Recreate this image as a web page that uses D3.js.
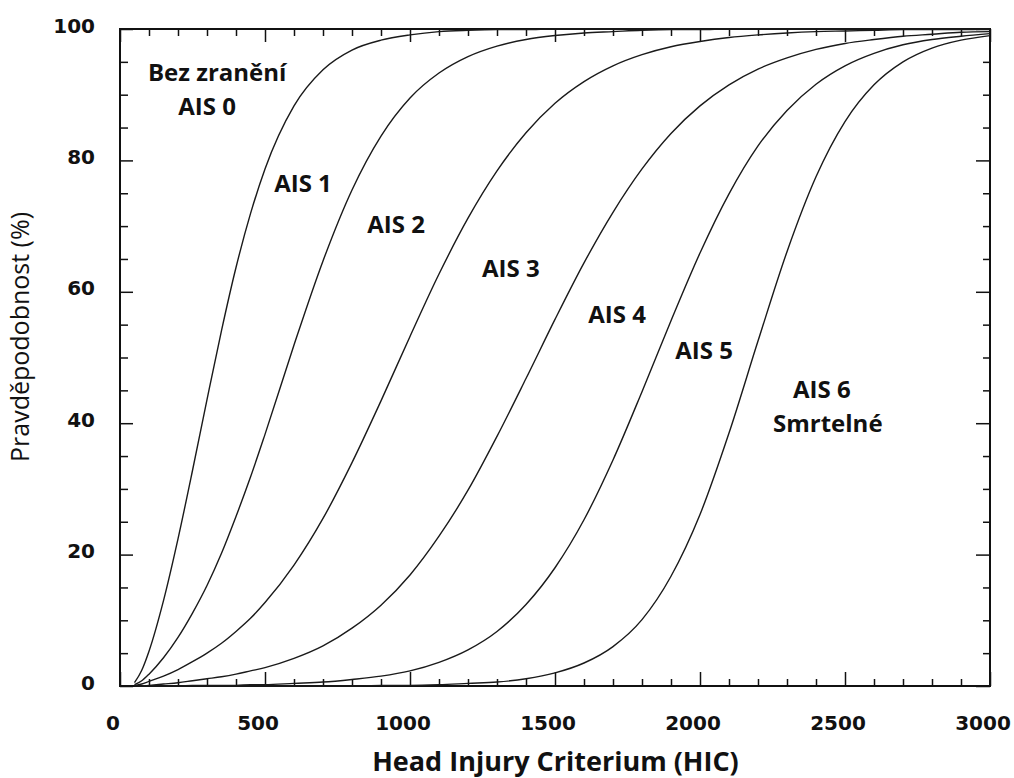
<!DOCTYPE html>
<html>
<head>
<meta charset="utf-8">
<script src="https://cdn.jsdelivr.net/npm/d3@7"></script>
<style>
  html, body { margin: 0; padding: 0; background: #fff; }
  svg { display: block; }
</style>
</head>
<body>
<script>
// ---------------- DATA ----------------
const hic = [50, 75, 100, 150, 200, 250, 300, 350, 400, 450, 500, 600, 700, 800, 900, 1000,
  1100, 1200, 1300, 1400, 1500, 1600, 1700, 1800, 1900, 2000,
  2100, 2200, 2300, 2400, 2500, 2600, 2700, 2800, 2900, 3000];

const ais1 = [0.5, 2.4, 5.3, 13.0, 22.4, 32.8, 43.6, 54.1, 63.7, 71.9, 78.7, 88.3, 93.8, 96.8, 98.3, 99.1,
  99.6, 99.8, 99.9, 99.9, 100, 100, 100, 100, 100, 100,
  100, 100, 100, 100, 100, 100, 100, 100, 100, 100];
const ais2 = [0.2, 0.8, 1.8, 4.3, 7.4, 11.1, 15.3, 20.2, 25.8, 31.8, 38.3, 51.9, 64.7, 75.5, 83.7, 89.5,
  93.3, 95.8, 97.4, 98.4, 99.0, 99.4, 99.6, 99.8, 99.9, 99.9,
  100, 100, 100, 100, 100, 100, 100, 100, 100, 100];
const ais3 = [0.1, 0.3, 0.7, 1.5, 2.5, 3.7, 5.0, 6.5, 8.3, 10.3, 12.7, 18.4, 25.5, 34.0, 43.4, 53.2,
  62.7, 71.2, 78.4, 84.2, 88.7, 92.0, 94.4, 96.1, 97.3, 98.1,
  98.7, 99.1, 99.4, 99.6, 99.7, 99.8, 99.9, 99.9, 99.9, 100];
const ais4 = [0, 0, 0.1, 0.3, 0.5, 0.8, 1.1, 1.4, 1.8, 2.3, 2.8, 4.2, 6.1, 8.8, 12.3, 16.9,
  22.8, 29.8, 38.0, 46.8, 55.8, 64.4, 72.1, 78.7, 84.1, 88.3,
  91.5, 93.9, 95.6, 96.9, 97.8, 98.4, 98.9, 99.2, 99.5, 99.6];
const ais5 = [0, 0, 0, 0, 0, 0.1, 0.1, 0.1, 0.1, 0.2, 0.2, 0.4, 0.6, 1.0, 1.5, 2.3,
  3.6, 5.5, 8.3, 12.4, 18.0, 25.3, 34.4, 44.8, 55.6, 65.9,
  74.9, 82.2, 87.6, 91.6, 94.4, 96.3, 97.6, 98.4, 98.9, 99.3];
const ais6 = [0, 0, 0, 0, 0, 0, 0, 0, 0, 0, 0, 0, 0, 0, 0.1, 0.1,
  0.2, 0.4, 0.6, 1.1, 2.0, 3.5, 6.0, 10.1, 16.7, 26.1,
  38.5, 52.5, 66.1, 77.5, 85.9, 91.5, 95.0, 97.1, 98.3, 99.0];
const seriesValues = [ais1, ais2, ais3, ais4, ais5, ais6];

const xTickLabels = [0, 500, 1000, 1500, 2000, 2500, 3000];
const yTickLabels = [0, 20, 40, 60, 80, 100];

// curve annotations: text lines and anchor in data units (HIC, %)
const annoText = [["Bez zranění", "AIS 0"], ["AIS 1"], ["AIS 2"], ["AIS 3"], ["AIS 4"], ["AIS 5"], ["AIS 6", "Smrtelné"]];
const annoHic = [335, 631, 952, 1348, 1714, 2014, 2420];
const annoPct = [92.1, 75.2, 69.0, 62.3, 55.3, 49.7, 43.9];

const xTitle = "Head Injury Criterium (HIC)";
const yTitle = "Pravděpodobnost (%)";

// ---------------- LAYOUT ----------------
const W = 1014, H = 778;
const L = 120, R = 990, T = 29, B = 686;

const svg = d3.select("body").append("svg").attr("width", W).attr("height", H);

const x = d3.scaleLinear().domain([0, 3000]).range([L, R]);
const y = d3.scaleLinear().domain([0, 100]).range([B, T]);

const xMinor = d3.range(0, 3001, 100).filter(v => v % 500 !== 0);
const yMinor = d3.range(0, 101, 5).filter(v => v % 20 !== 0);

function tickGroup(axisFn, scale, values, size, transform) {
  const g = svg.append("g").attr("transform", transform)
    .call(axisFn(scale).tickValues(values).tickSize(size).tickFormat(""));
  g.select(".domain").remove();
  g.selectAll(".tick line").attr("stroke", "#111").attr("stroke-width", 1.5);
  return g;
}
// bottom
tickGroup(d3.axisBottom, x, xTickLabels, -14, `translate(0,${B})`);
tickGroup(d3.axisBottom, x, xMinor, -7, `translate(0,${B})`);
// top
tickGroup(d3.axisTop, x, xTickLabels, -13, `translate(0,${T})`);
tickGroup(d3.axisTop, x, xMinor, -7, `translate(0,${T})`);
// left
tickGroup(d3.axisLeft, y, yTickLabels, -13, `translate(${L},0)`);
tickGroup(d3.axisLeft, y, yMinor, -8, `translate(${L},0)`);
// right
tickGroup(d3.axisRight, y, yTickLabels, -14, `translate(${R},0)`);
tickGroup(d3.axisRight, y, yMinor, -7, `translate(${R},0)`);

// frame
svg.append("rect").attr("x", L).attr("y", T).attr("width", R - L).attr("height", B - T)
  .attr("fill", "none").attr("stroke", "#111").attr("stroke-width", 2);

// tick labels
svg.append("g").selectAll("text").data(xTickLabels).join("text")
  .attr("x", d => x(d) - 7).attr("y", 730)
  .attr("text-anchor", "middle")
  .attr("font-family", "DejaVu Sans").attr("font-weight", "bold").attr("font-size", 20)
  .attr("fill", "#111").text(d => d);

svg.append("g").selectAll("text").data(yTickLabels).join("text")
  .attr("x", 95).attr("y", d => y(d) + 3.5)
  .attr("text-anchor", "end")
  .attr("font-family", "DejaVu Sans").attr("font-weight", "bold").attr("font-size", 20)
  .attr("fill", "#111").text(d => d);

// curves
const line = d3.line()
  .x((d, i) => x(hic[i]))
  .y(d => y(d))
  .curve(d3.curveMonotoneX);

svg.append("g").selectAll("path").data(seriesValues).join("path")
  .attr("d", d => line(d))
  .attr("fill", "none").attr("stroke", "#1a1a1a").attr("stroke-width", 1.4);

// annotations
const anno = svg.append("g")
  .attr("font-family", "Open Sans").attr("font-weight", "bold").attr("font-size", 24)
  .attr("fill", "#111").attr("text-anchor", "middle");
annoText.forEach((lines, i) => {
  const t = anno.append("text").attr("x", x(annoHic[i])).attr("y", y(annoPct[i]));
  lines.forEach((ln, j) => {
    t.append("tspan").attr("x", x(annoHic[i]) + (i === 0 && j === 1 ? -10 : 0) + (i === 6 && j === 1 ? 6 : 0))
      .attr("dy", j === 0 ? 0 : 34).text(ln);
  });
});

// axis titles
svg.append("text").attr("x", (367 + 744) / 2).attr("y", 771)
  .attr("text-anchor", "middle")
  .attr("font-family", "Open Sans").attr("font-weight", "bold").attr("font-size", 27)
  .attr("fill", "#111").text(xTitle);

svg.append("text")
  .attr("transform", "translate(29,462) rotate(-90)")
  .attr("text-anchor", "start")
  .attr("font-family", "Open Sans").attr("font-size", 25)
  .attr("fill", "#111").text(yTitle);
</script>
</body>
</html>
